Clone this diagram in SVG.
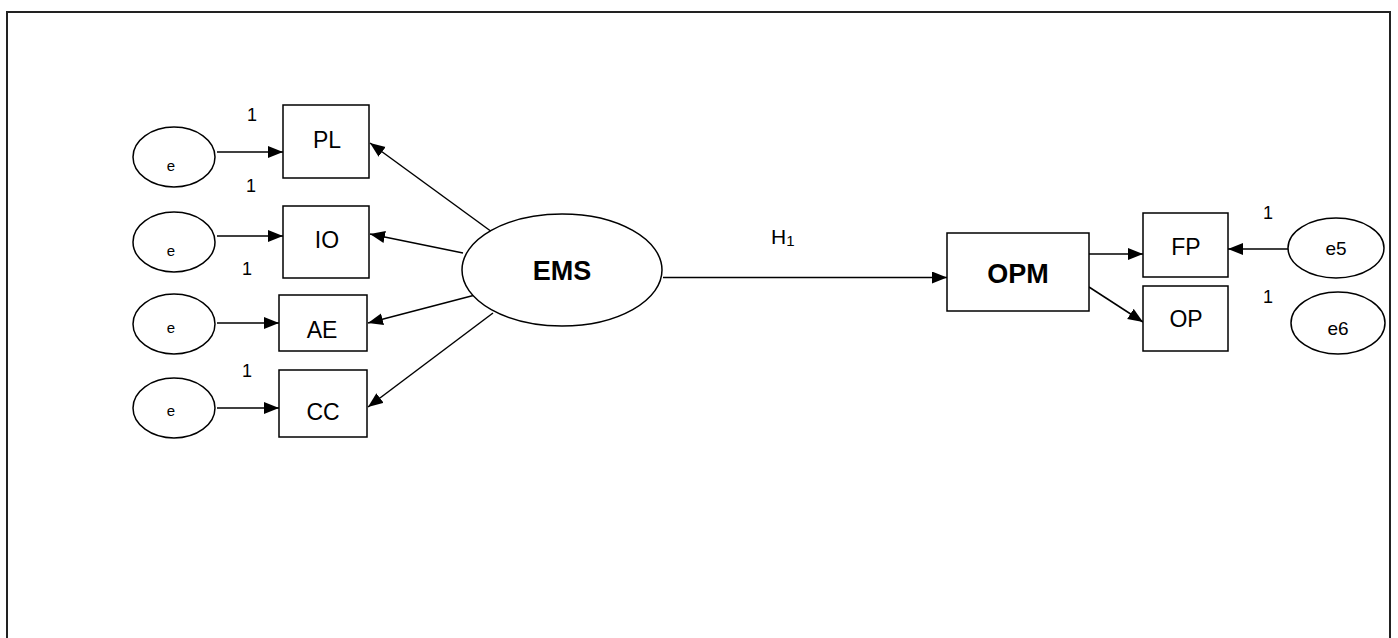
<svg xmlns="http://www.w3.org/2000/svg" width="1398" height="638" viewBox="0 0 1398 638">
<defs>
<style>
.box{fill:#fff;stroke:#000;stroke-width:1.5}
.ell{fill:#fff;stroke:#000;stroke-width:1.5}
.edge{stroke:#000;stroke-width:1.5;fill:none;marker-end:url(#ah)}
.t{font-family:"Liberation Sans",Arial,sans-serif;fill:#000;text-anchor:middle}
.lbl{font-size:23px}
.big{font-size:27px;font-weight:bold}
.sm{font-size:15px}
.err{font-size:19px}
.one{font-family:"Liberation Sans",Arial,sans-serif;font-size:18px;fill:#000;text-anchor:middle}
</style>
<marker id="ah" markerUnits="userSpaceOnUse" markerWidth="16" markerHeight="14" refX="15" refY="6" orient="auto">
<path d="M0,0 L15,6 L0,12 Z" fill="#000"/>
</marker>
</defs>
<rect x="0" y="0" width="1398" height="638" fill="#fff"/>
<path d="M7,645 L7,12 L1390,12 L1390,645" fill="none" stroke="#222" stroke-width="2"/>

<g id="connectors">
<line class="edge" x1="217" y1="152" x2="283" y2="152"/>
<line class="edge" x1="217" y1="236" x2="283" y2="236"/>
<line class="edge" x1="217" y1="323" x2="279" y2="323"/>
<line class="edge" x1="217" y1="408" x2="279" y2="408"/>
<line class="edge" x1="492" y1="232" x2="370" y2="143"/>
<line class="edge" x1="463" y1="253" x2="370" y2="234"/>
<line class="edge" x1="479" y1="294" x2="368" y2="323"/>
<line class="edge" x1="493" y1="313" x2="368" y2="407"/>
<line class="edge" x1="663" y1="277.5" x2="947" y2="277.5"/>
<line class="edge" x1="1089" y1="254" x2="1143" y2="254"/>
<line class="edge" x1="1089" y1="287" x2="1143" y2="322"/>
<line class="edge" x1="1288" y1="249" x2="1228" y2="249"/>
</g>

<g id="e1"><ellipse class="ell" cx="174" cy="157" rx="41" ry="30"/><text class="t sm" x="171" y="171">e</text></g>
<g id="e2"><ellipse class="ell" cx="174" cy="242" rx="41" ry="30"/><text class="t sm" x="171" y="256">e</text></g>
<g id="e3"><ellipse class="ell" cx="174" cy="324" rx="41" ry="30"/><text class="t sm" x="171" y="333">e</text></g>
<g id="e4"><ellipse class="ell" cx="174" cy="408" rx="41" ry="30"/><text class="t sm" x="171" y="416">e</text></g>

<g id="PL"><rect class="box" x="283" y="105" width="86" height="73"/><text class="t lbl" x="327" y="148">PL</text></g>
<g id="IO"><rect class="box" x="283" y="206" width="86" height="72"/><text class="t lbl" x="327" y="248">IO</text></g>
<g id="AE"><rect class="box" x="279" y="295" width="88" height="56"/><text class="t lbl" x="322" y="338">AE</text></g>
<g id="CC"><rect class="box" x="279" y="370" width="88" height="67"/><text class="t lbl" x="323" y="420">CC</text></g>

<g id="labels-left">
<text class="one" x="252" y="121">1</text>
<text class="one" x="251" y="192">1</text>
<text class="one" x="247" y="275">1</text>
<text class="one" x="247" y="377">1</text>
</g>

<g id="EMS"><ellipse class="ell" cx="562" cy="270" rx="100" ry="56"/><text class="t big" x="562" y="280">EMS</text></g>

<g id="H1label"><text font-family="Liberation Sans, Arial, sans-serif" font-size="21" x="771" y="244">H<tspan font-size="15" dy="2">1</tspan></text></g>

<g id="OPM"><rect class="box" x="947" y="233" width="142" height="78"/><text class="t big" x="1018" y="283">OPM</text></g>
<g id="FP"><rect class="box" x="1143" y="213" width="85" height="64"/><text class="t lbl" x="1186" y="255">FP</text></g>
<g id="OP"><rect class="box" x="1143" y="286" width="85" height="65"/><text class="t lbl" x="1186" y="327">OP</text></g>

<g id="e5"><ellipse class="ell" cx="1336" cy="248" rx="48" ry="30"/><text class="t err" x="1336" y="255">e5</text></g>
<g id="e6"><ellipse class="ell" cx="1338" cy="323" rx="47" ry="31"/><text class="t err" x="1338" y="335">e6</text></g>

<g id="labels-right">
<text class="one" x="1268" y="219">1</text>
<text class="one" x="1268" y="303">1</text>
</g>
</svg>
